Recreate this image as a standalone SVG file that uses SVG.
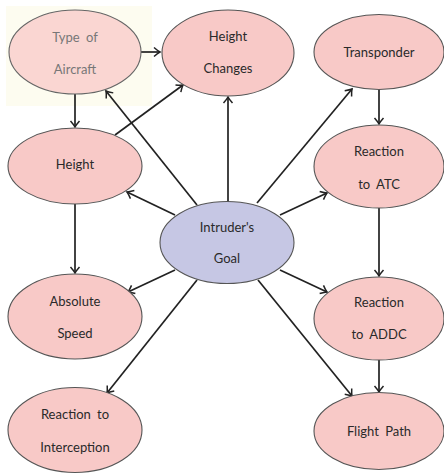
<svg xmlns="http://www.w3.org/2000/svg" width="444" height="474" viewBox="0 0 444 474">
<defs>
<style>
.n{fill:#f8c9c7;stroke:#555;stroke-width:1.1}
.g{fill:#c6c7e4;stroke:#555;stroke-width:1.1}
.l{fill:#fad6d2;stroke:#666;stroke-width:1.1}
text{font-family:Lato,"Noto Sans","DejaVu Sans",sans-serif;font-size:13px;fill:#2a2a2a;text-anchor:middle;dominant-baseline:central;word-spacing:3px}
.lt{fill:#777}
.e{stroke:#222;stroke-width:1.7;fill:none;marker-end:url(#a)}
</style>
<marker id="a" viewBox="-8 -6 10 12" markerWidth="10" markerHeight="12" refX="0" refY="0" orient="auto" markerUnits="userSpaceOnUse">
<path d="M-6,-4.5 Q-2,-1 0,0 Q-2,1 -6,4.5" fill="none" stroke="#222" stroke-width="1.5"/>
</marker>
</defs>
<rect x="0" y="0" width="444" height="474" fill="#fff"/>
<rect x="6" y="6" width="146" height="100" fill="#fdfcf0"/>
<g id="edges">
<line class="e" x1="141" y1="52" x2="160" y2="52"/>
<line class="e" x1="75" y1="94" x2="75" y2="127"/>
<line class="e" x1="115" y1="135" x2="183" y2="85"/>
<line class="e" x1="197" y1="205" x2="106" y2="91"/>
<line class="e" x1="228" y1="202" x2="228" y2="97"/>
<line class="e" x1="257" y1="203" x2="352" y2="89"/>
<line class="e" x1="379" y1="89" x2="379" y2="124"/>
<line class="e" x1="175" y1="215" x2="127" y2="192"/>
<line class="e" x1="280" y1="215" x2="327" y2="193"/>
<line class="e" x1="75" y1="204" x2="75" y2="273"/>
<line class="e" x1="175" y1="270" x2="128" y2="292"/>
<line class="e" x1="280" y1="270" x2="327" y2="292"/>
<line class="e" x1="379" y1="208" x2="379" y2="276"/>
<line class="e" x1="197" y1="280" x2="107" y2="393"/>
<line class="e" x1="258" y1="280" x2="352" y2="396"/>
<line class="e" x1="379" y1="360" x2="379" y2="392"/>
</g>
<g id="type-of-aircraft"><ellipse class="l" cx="75" cy="52" rx="66" ry="42"/><text class="lt" x="75" y="37">Type of</text><text class="lt" x="75" y="69">Aircraft</text></g>
<g id="height-changes"><ellipse class="n" cx="228" cy="53" rx="66" ry="43"/><text x="228" y="36">Height</text><text x="228" y="68">Changes</text></g>
<g id="transponder"><ellipse class="n" cx="379" cy="52" rx="65" ry="37.5"/><text x="379" y="52">Transponder</text></g>
<g id="height"><ellipse class="n" cx="75" cy="166" rx="67" ry="38"/><text x="75" y="164">Height</text></g>
<g id="reaction-atc"><ellipse class="n" cx="379" cy="166.5" rx="65" ry="41.5"/><text x="379" y="151">Reaction</text><text x="379" y="184">to ATC</text></g>
<g id="intruders-goal"><ellipse class="g" cx="227" cy="242.5" rx="67" ry="41"/><text x="227" y="227">Intruder's</text><text x="227" y="258">Goal</text></g>
<g id="absolute-speed"><ellipse class="n" cx="75" cy="316.5" rx="67" ry="42.5"/><text x="75" y="301">Absolute</text><text x="75" y="333">Speed</text></g>
<g id="reaction-addc"><ellipse class="n" cx="379" cy="318.5" rx="65" ry="41.5"/><text x="379" y="302">Reaction</text><text x="379" y="334">to ADDC</text></g>
<g id="reaction-interception"><ellipse class="n" cx="75" cy="430" rx="67" ry="42.5"/><text x="75" y="414">Reaction to</text><text x="75" y="447">Interception</text></g>
<g id="flight-path"><ellipse class="n" cx="379" cy="431" rx="65" ry="38.5"/><text x="379" y="431">Flight Path</text></g>
</svg>
